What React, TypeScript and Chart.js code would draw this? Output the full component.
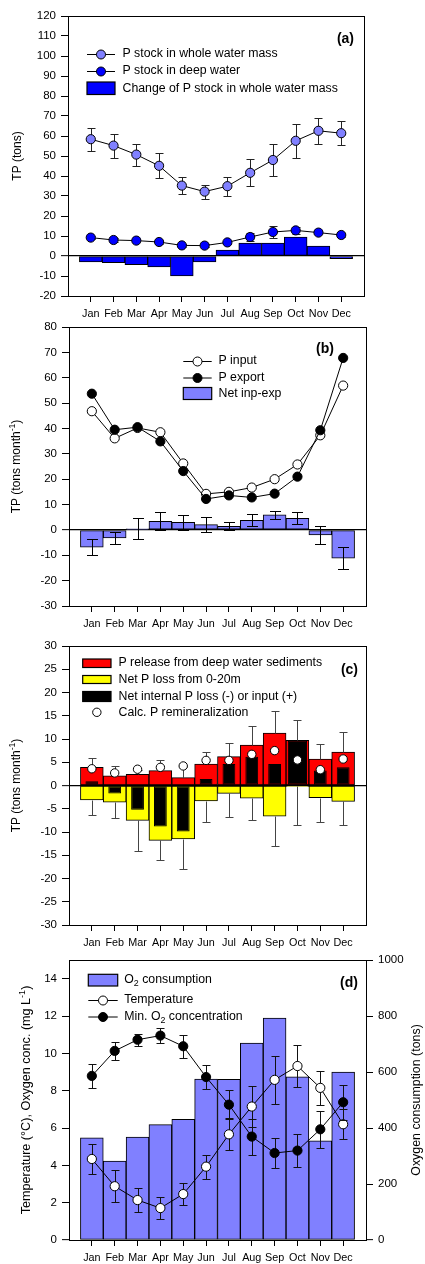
import { useEffect, useRef } from 'react';
import { Chart, registerables } from 'chart.js';

Chart.register(...registerables);

const FONT = '"Liberation Sans", Arial, Helvetica, sans-serif';
const PAGE_W = 425;
const PAGE_H = 1264;

const months = ['Jan', 'Feb', 'Mar', 'Apr', 'May', 'Jun', 'Jul', 'Aug', 'Sep', 'Oct', 'Nov', 'Dec'];

// ---- Panel (a)
const ticksA = [-20, -10, 0, 10, 20, 30, 40, 50, 60, 70, 80, 90, 100, 110, 120];
const stockWhole = [58.4, 55.2, 50.7, 45.1, 35.2, 32.2, 34.9, 41.6, 48.0, 57.6, 62.6, 61.4];
const stockWholeErr = [5.7, 6.0, 5.5, 6.3, 4.2, 3.5, 4.7, 6.7, 7.9, 8.5, 6.4, 6.0];
const stockDeep = [9.2, 8.0, 7.7, 7.0, 5.3, 5.2, 6.8, 9.5, 12.0, 12.8, 11.7, 10.5];
const stockDeepErr = [0.8, 0.8, 0.8, 0.8, 0.8, 0.8, 0.8, 2.0, 2.8, 1.6, 0.8, 0.8];
const stockChange = [-3.0, -3.3, -4.3, -5.5, -10.0, -3.0, 3.0, 6.5, 6.5, 9.5, 5.0, -1.3];

// ---- Panel (b)
const ticksB = [-30, -20, -10, 0, 10, 20, 30, 40, 50, 60, 70, 80];
const pInput = [46.8, 36.1, 40.2, 38.5, 26.2, 14.2, 15.0, 16.7, 20.0, 25.8, 37.3, 56.9];
const pExport = [53.7, 39.5, 40.5, 34.9, 23.2, 12.2, 13.6, 12.8, 14.3, 21.0, 39.3, 67.8];
const netInpExp = [-6.8, -3.2, 0.4, 3.4, 3.0, 2.1, 1.4, 3.8, 5.9, 4.6, -2.0, -11.1];
const netInpExpErr = [3.2, 2.3, 4.1, 3.6, 3.0, 2.9, 1.6, 2.4, 1.7, 2.3, 3.5, 4.5];

// ---- Panel (c)
const ticksC = [-30, -25, -20, -15, -10, -5, 0, 5, 10, 15, 20, 25, 30];
const pRelease = [3.9, 2.1, 2.4, 3.2, 1.7, 4.6, 6.2, 8.7, 11.3, 9.7, 5.7, 7.2];
const pReleaseErr = [2.1, 2.1, 1.0, 2.3, 2.2, 2.6, 3.0, 4.0, 4.8, 4.3, 3.3, 4.2];
const netLoss020 = [-3.1, -3.6, -7.5, -11.8, -11.5, -3.3, -1.7, -2.7, -6.6, -0.2, -2.6, -3.4];
const netLoss020Err = [3.2, 3.3, 6.6, 4.3, 6.4, 4.6, 5.0, 4.8, 6.4, 8.2, 5.3, 5.2];
const netInternal = [0.9, -1.7, -5.2, -8.8, -9.9, 1.4, 4.6, 6.2, 4.6, 9.6, 3.2, 3.9];
const remineralization = [3.6, 2.7, 3.5, 3.9, 4.2, 5.4, 5.4, 6.7, 7.5, 5.5, 3.4, 5.7];
const wideInternalMonths = ['Oct'];

// ---- Panel (d)
const ticksDLeft = [0, 2, 4, 6, 8, 10, 12, 14];
const ticksDRight = [0, 200, 400, 600, 800, 1000];
const o2Consumption = [365, 282, 368, 412, 431, 575, 574, 703, 793, 583, 354, 600];
const temperature = [4.34, 2.88, 2.14, 1.71, 2.46, 3.93, 5.66, 7.15, 8.58, 9.32, 8.15, 6.2];
const temperatureErr = [0.8, 0.86, 0.65, 0.58, 0.6, 0.65, 0.85, 1.1, 1.27, 1.1, 0.9, 0.8];
const minO2 = [8.79, 10.13, 10.73, 10.95, 10.38, 8.73, 7.25, 5.54, 4.66, 4.79, 5.93, 7.38];
const minO2Err = [0.66, 0.5, 0.33, 0.4, 0.62, 0.66, 0.77, 0.96, 0.82, 0.87, 1.0, 0.93];

// ---------------------------------------------------------------
const pts = (arr: (number | null)[]) =>
  arr.map((y, i) => ({ x: i + 1, y })).filter((p) => p.y !== null);

type Seg = { t: string; s?: 'sup' | 'sub' };

function drawRich(ctx: any, text: string | Seg[], x: number, y: number, size: number, align = 'left', bold = false) {
  const segs: Seg[] = typeof text === 'string' ? [{ t: text }] : text;
  const fontOf = (g: Seg) => `${bold ? 'bold ' : ''}${g.s ? size * 0.72 : size}px ${FONT}`;
  let w = 0;
  for (const g of segs) {
    ctx.font = fontOf(g);
    w += ctx.measureText(g.t).width;
  }
  let cx = align === 'center' ? x - w / 2 : align === 'right' ? x - w : x;
  ctx.textBaseline = 'middle';
  ctx.textAlign = 'left';
  ctx.fillStyle = '#000';
  for (const g of segs) {
    ctx.font = fontOf(g);
    const dy = g.s === 'sup' ? -size * 0.36 : g.s === 'sub' ? size * 0.3 : 0;
    ctx.fillText(g.t, cx, y + dy);
    cx += ctx.measureText(g.t).width;
  }
}

function circle(ctx: any, x: number, y: number, r: number, fill: string) {
  ctx.beginPath();
  ctx.arc(x, y, r, 0, Math.PI * 2);
  ctx.fillStyle = fill;
  ctx.fill();
  ctx.lineWidth = 1;
  ctx.strokeStyle = '#000';
  ctx.stroke();
}

function drawErrors(chart: any, e: any) {
  const ctx = chart.ctx;
  const meta = chart.getDatasetMeta(e.ds);
  const xs = chart.scales[meta.xAxisID];
  const ys = chart.scales[meta.yAxisID];
  ctx.save();
  ctx.strokeStyle = e.color;
  ctx.lineWidth = 1;
  e.vals.forEach((v: number, i: number) => {
    const err = e.err[i];
    if (v == null || err == null) return;
    const x = Math.round(xs.getPixelForValue(i + 1)) + 0.5;
    const hi = e.mode === 'down' ? v : v + err;
    const lo = e.mode === 'up' ? v : v - err;
    const yHi = Math.round(ys.getPixelForValue(hi)) + 0.5;
    const yLo = Math.round(ys.getPixelForValue(lo)) + 0.5;
    const h = e.cap / 2;
    ctx.beginPath();
    ctx.moveTo(x, yHi);
    ctx.lineTo(x, yLo);
    if (e.mode !== 'down') {
      ctx.moveTo(x - h, yHi);
      ctx.lineTo(x + h, yHi);
    }
    if (e.mode !== 'up') {
      ctx.moveTo(x - h, yLo);
      ctx.lineTo(x + h, yLo);
    }
    ctx.stroke();
  });
  ctx.restore();
}

function makeOverlay(p: any) {
  return {
    id: 'overlay',
    beforeDatasetDraw(chart: any, args: any) {
      p.errors.filter((e: any) => e.ds === args.index && e.when === 'before').forEach((e: any) => drawErrors(chart, e));
    },
    afterDatasetDraw(chart: any, args: any) {
      p.errors.filter((e: any) => e.ds === args.index && e.when === 'after').forEach((e: any) => drawErrors(chart, e));
    },
    afterDraw(chart: any) {
      const ctx = chart.ctx;
      const a = chart.chartArea;
      ctx.save();
      ctx.strokeStyle = '#000';
      ctx.lineWidth = 1;
      ctx.strokeRect(Math.round(a.left) + 0.5, Math.round(a.top) + 0.5, Math.round(a.right - a.left), Math.round(a.bottom - a.top));
      // panel letter
      drawRich(ctx, p.letter.text, p.letter.x, p.letter.y, 14, 'right', true);
      // legend
      const lg = p.legend;
      for (const it of lg.items) {
        if (it.kind === 'line') {
          ctx.beginPath();
          ctx.moveTo(lg.x1, it.y + 0.5);
          ctx.lineTo(lg.x2, it.y + 0.5);
          ctx.strokeStyle = '#000';
          ctx.lineWidth = 1;
          ctx.stroke();
          circle(ctx, (lg.x1 + lg.x2) / 2, it.y + 0.5, 4.5, it.fill);
        } else if (it.kind === 'box') {
          ctx.fillStyle = it.fill;
          ctx.fillRect(lg.x1, it.y1, lg.x2 - lg.x1, it.y2 - it.y1);
          ctx.strokeStyle = '#000';
          ctx.lineWidth = 1.2;
          ctx.strokeRect(lg.x1, it.y1, lg.x2 - lg.x1, it.y2 - it.y1);
        } else if (it.kind === 'dot') {
          circle(ctx, (lg.x1 + lg.x2) / 2, it.y, 4.2, it.fill);
        }
        drawRich(ctx, it.text, lg.tx, it.ty ?? it.y, 12.3, 'left');
      }
      // axis titles (rotated, reading bottom-to-top)
      for (const t of p.titles) {
        ctx.save();
        ctx.translate(t.x, (a.top + a.bottom) / 2);
        ctx.rotate(-Math.PI / 2);
        drawRich(ctx, t.text, 0, 0, t.size ?? 12, 'center');
        ctx.restore();
      }
      ctx.restore();
    },
  };
}

function xScale() {
  return {
    type: 'linear',
    min: 0,
    max: 13,
    offset: false,
    afterBuildTicks: (s: any) => {
      s.ticks = months.map((_, i) => ({ value: i + 1 }));
    },
    afterFit: (s: any) => {
      s.height = 30;
    },
    ticks: {
      autoSkip: false,
      maxRotation: 0,
      padding: 6,
      color: '#000',
      font: { family: FONT, size: 10.8 },
      callback: (v: any) => months[Math.round(v) - 1] ?? '',
    },
    grid: {
      offset: false,
      drawOnChartArea: false,
      drawTicks: true,
      tickLength: 6,
      color: '#000',
      tickColor: '#000',
      tickWidth: 1,
    },
    border: { display: true, color: '#000', width: 1 },
  };
}

function yScale(o: any) {
  return {
    type: 'linear',
    position: o.position || 'left',
    min: o.min,
    max: o.max,
    afterBuildTicks: (s: any) => {
      s.ticks = o.ticks.map((v: number) => ({ value: v }));
    },
    afterFit: (s: any) => {
      s.width = o.width;
    },
    ticks: {
      autoSkip: false,
      padding: o.pad ?? 5,
      color: '#000',
      font: { family: FONT, size: 11.5 },
      callback: (v: any) => String(v),
    },
    grid: {
      drawOnChartArea: !!o.zero,
      drawTicks: true,
      tickLength: 7,
      color: (c: any) => (c.tick && c.tick.value === 0 ? '#000' : 'rgba(0,0,0,0)'),
      lineWidth: (c: any) => (c.tick && c.tick.value === 0 ? 1.3 : 1),
      tickColor: '#000',
      tickWidth: 1,
    },
    border: { display: true, color: '#000', width: 1 },
  };
}

const lineDs = (data: number[], fill: string, order: number, r = 4.6, showLine = true) => ({
  type: 'line',
  data: pts(data),
  order,
  showLine,
  borderColor: '#000',
  borderWidth: 1,
  tension: 0,
  fill: false,
  pointRadius: r,
  pointHoverRadius: r,
  pointBackgroundColor: fill,
  pointBorderColor: '#000',
  pointBorderWidth: 1,
  clip: false,
});

const barDs = (data: (number | null)[], fill: string, order: number, ratio = 1, extra: any = {}) => ({
  type: 'bar',
  data: pts(data),
  order,
  backgroundColor: fill,
  borderColor: '#000',
  borderWidth: 1,
  borderSkipped: false,
  grouped: false,
  barPercentage: ratio,
  categoryPercentage: 1,
  ...extra,
});

const panels: any[] = [
  {
    plot: { left: 68, right: 364, top: 16, bottom: 296 },
    scales: (p: any) => ({
      x: xScale(),
      y: yScale({ min: -20, max: 120, ticks: ticksA, width: p.plot.left, zero: true }),
    }),
    datasets: [
      lineDs(stockWhole, '#8080ff', 1),
      lineDs(stockDeep, '#0000ff', 2),
      barDs(stockChange, '#0000ff', 3),
    ],
    errors: [
      { ds: 0, when: 'before', vals: stockWhole, err: stockWholeErr, mode: 'both', cap: 8, color: '#222' },
      { ds: 1, when: 'before', vals: stockDeep, err: stockDeepErr, mode: 'both', cap: 8, color: '#222' },
    ],
    letter: { text: '(a)', x: 354, y: 39 },
    legend: {
      x1: 87, x2: 115, tx: 122.5,
      items: [
        { kind: 'line', y: 54, fill: '#8080ff', text: 'P stock in whole water mass' },
        { kind: 'line', y: 71, fill: '#0000ff', text: 'P stock in deep water' },
        { kind: 'box', y1: 82, y2: 94.5, ty: 88.3, fill: '#0000ff', text: 'Change of P stock in whole water mass' },
      ],
    },
    titles: [{ x: 18, text: 'TP (tons)' }],
  },
  {
    plot: { left: 69, right: 366, top: 327, bottom: 606 },
    scales: (p: any) => ({
      x: xScale(),
      y: yScale({ min: -30, max: 80, ticks: ticksB, width: p.plot.left, zero: true }),
    }),
    datasets: [
      lineDs(pExport, '#000000', 1),
      lineDs(pInput, '#ffffff', 2),
      barDs(netInpExp, '#8080ff', 3),
    ],
    errors: [{ ds: 2, when: 'after', vals: netInpExp, err: netInpExpErr, mode: 'both', cap: 11, color: '#000' }],
    letter: { text: '(b)', x: 334, y: 349.5 },
    legend: {
      x1: 183.3, x2: 211.7, tx: 218.5,
      items: [
        { kind: 'line', y: 361, fill: '#ffffff', text: 'P input' },
        { kind: 'line', y: 377.5, fill: '#000000', text: 'P export' },
        { kind: 'box', y1: 387.5, y2: 399.5, ty: 393.5, fill: '#8080ff', text: 'Net inp-exp' },
      ],
    },
    titles: [{ x: 17, text: [{ t: 'TP (tons month' }, { t: '-1', s: 'sup' }, { t: ')' }] }],
  },
  {
    plot: { left: 69, right: 366, top: 646, bottom: 925 },
    scales: (p: any) => ({
      x: xScale(),
      y: yScale({ min: -30, max: 30, ticks: ticksC, width: p.plot.left, zero: true }),
    }),
    datasets: [
      lineDs(remineralization, '#ffffff', 1, 4.2, false),
      barDs(netInternal.map((v, i) => (wideInternalMonths.includes(months[i]) ? null : v)), '#000000', 2, 0.56),
      barDs(netInternal.map((v, i) => (wideInternalMonths.includes(months[i]) ? v : null)), '#000000', 3, 0.84),
      barDs(netLoss020, '#ffff00', 4),
      barDs(pRelease, '#ff0000', 5),
    ],
    errors: [
      { ds: 0, when: 'before', vals: pRelease, err: pReleaseErr, mode: 'up', cap: 8, color: '#444' },
      { ds: 0, when: 'before', vals: netLoss020, err: netLoss020Err, mode: 'down', cap: 8, color: '#444' },
    ],
    letter: { text: '(c)', x: 358, y: 670 },
    legend: {
      x1: 82.7, x2: 111, tx: 118.5,
      items: [
        { kind: 'box', y1: 659, y2: 667.5, ty: 663, fill: '#ff0000', text: 'P release from deep water sediments' },
        { kind: 'box', y1: 675.5, y2: 683.5, ty: 679.5, fill: '#ffff00', text: 'Net P loss from 0-20m' },
        { kind: 'box', y1: 691.5, y2: 701.5, ty: 696.5, fill: '#000000', text: 'Net internal P loss (-) or input (+)' },
        { kind: 'dot', y: 712.3, fill: '#ffffff', text: 'Calc. P remineralization' },
      ],
    },
    titles: [{ x: 17, text: [{ t: 'TP (tons month' }, { t: '-1', s: 'sup' }, { t: ')' }] }],
  },
  {
    plot: { left: 69, right: 366, top: 960, bottom: 1240 },
    rightAxis: true,
    scales: (p: any) => ({
      x: xScale(),
      y: yScale({ min: 0, max: 15, ticks: ticksDLeft, width: p.plot.left, zero: false }),
      y2: yScale({ min: 0, max: 1000, ticks: ticksDRight, width: PAGE_W - p.plot.right, zero: false, position: 'right', pad: 5 }),
    }),
    datasets: [
      lineDs(minO2, '#000000', 1),
      lineDs(temperature, '#ffffff', 2),
      barDs(o2Consumption, '#8080ff', 3, 1, { yAxisID: 'y2' }),
    ],
    errors: [
      { ds: 1, when: 'before', vals: temperature, err: temperatureErr, mode: 'both', cap: 8, color: '#111' },
      { ds: 0, when: 'before', vals: minO2, err: minO2Err, mode: 'both', cap: 8, color: '#111' },
    ],
    letter: { text: '(d)', x: 358, y: 983 },
    legend: {
      x1: 88.3, x2: 117.7, tx: 124.3,
      items: [
        { kind: 'box', y1: 974.3, y2: 986, ty: 979.5, fill: '#8080ff', text: [{ t: 'O' }, { t: '2', s: 'sub' }, { t: ' consumption' }] },
        { kind: 'line', y: 1000, fill: '#ffffff', text: 'Temperature' },
        { kind: 'line', y: 1016.5, fill: '#000000', text: [{ t: 'Min. O' }, { t: '2', s: 'sub' }, { t: ' concentration' }] },
      ],
    },
    titles: [
      { x: 27, size: 12.6, text: [{ t: 'Temperature (°C), Oxygen conc. (mg L' }, { t: '-1', s: 'sup' }, { t: ')' }] },
      { x: 417, size: 12.4, text: 'Oxygen consumption (tons)' },
    ],
  },
];

function buildChart(canvas: HTMLCanvasElement, p: any) {
  return new Chart(canvas, {
    type: 'bar',
    data: { datasets: p.datasets },
    options: {
      responsive: false,
      animation: false,
      devicePixelRatio: 1,
      events: [],
      layout: {
        padding: {
          left: 0,
          right: p.rightAxis ? 0 : PAGE_W - p.plot.right,
          top: p.plot.top,
          bottom: PAGE_H - p.plot.bottom - 30,
        },
      },
      plugins: { legend: { display: false }, tooltip: { enabled: false }, title: { display: false } },
      scales: p.scales(p),
    } as any,
    plugins: [makeOverlay(p)],
  } as any);
}

export default function App() {
  const r0 = useRef<HTMLCanvasElement>(null);
  const r1 = useRef<HTMLCanvasElement>(null);
  const r2 = useRef<HTMLCanvasElement>(null);
  const r3 = useRef<HTMLCanvasElement>(null);
  const refs = [r0, r1, r2, r3];

  useEffect(() => {
    Chart.defaults.font.family = FONT;
    Chart.defaults.color = '#000';
    const charts = panels.map((p, i) => buildChart(refs[i].current as HTMLCanvasElement, p));
    return () => charts.forEach((c) => c.destroy());
  }, []);

  return (
    <div style={{ position: 'absolute', left: 0, top: 0, width: PAGE_W, height: PAGE_H, background: '#fff' }}>
      {refs.map((r, i) => (
        <canvas
          key={i}
          ref={r}
          width={PAGE_W}
          height={PAGE_H}
          style={{ position: 'absolute', left: 0, top: 0, width: PAGE_W, height: PAGE_H }}
        />
      ))}
    </div>
  );
}
